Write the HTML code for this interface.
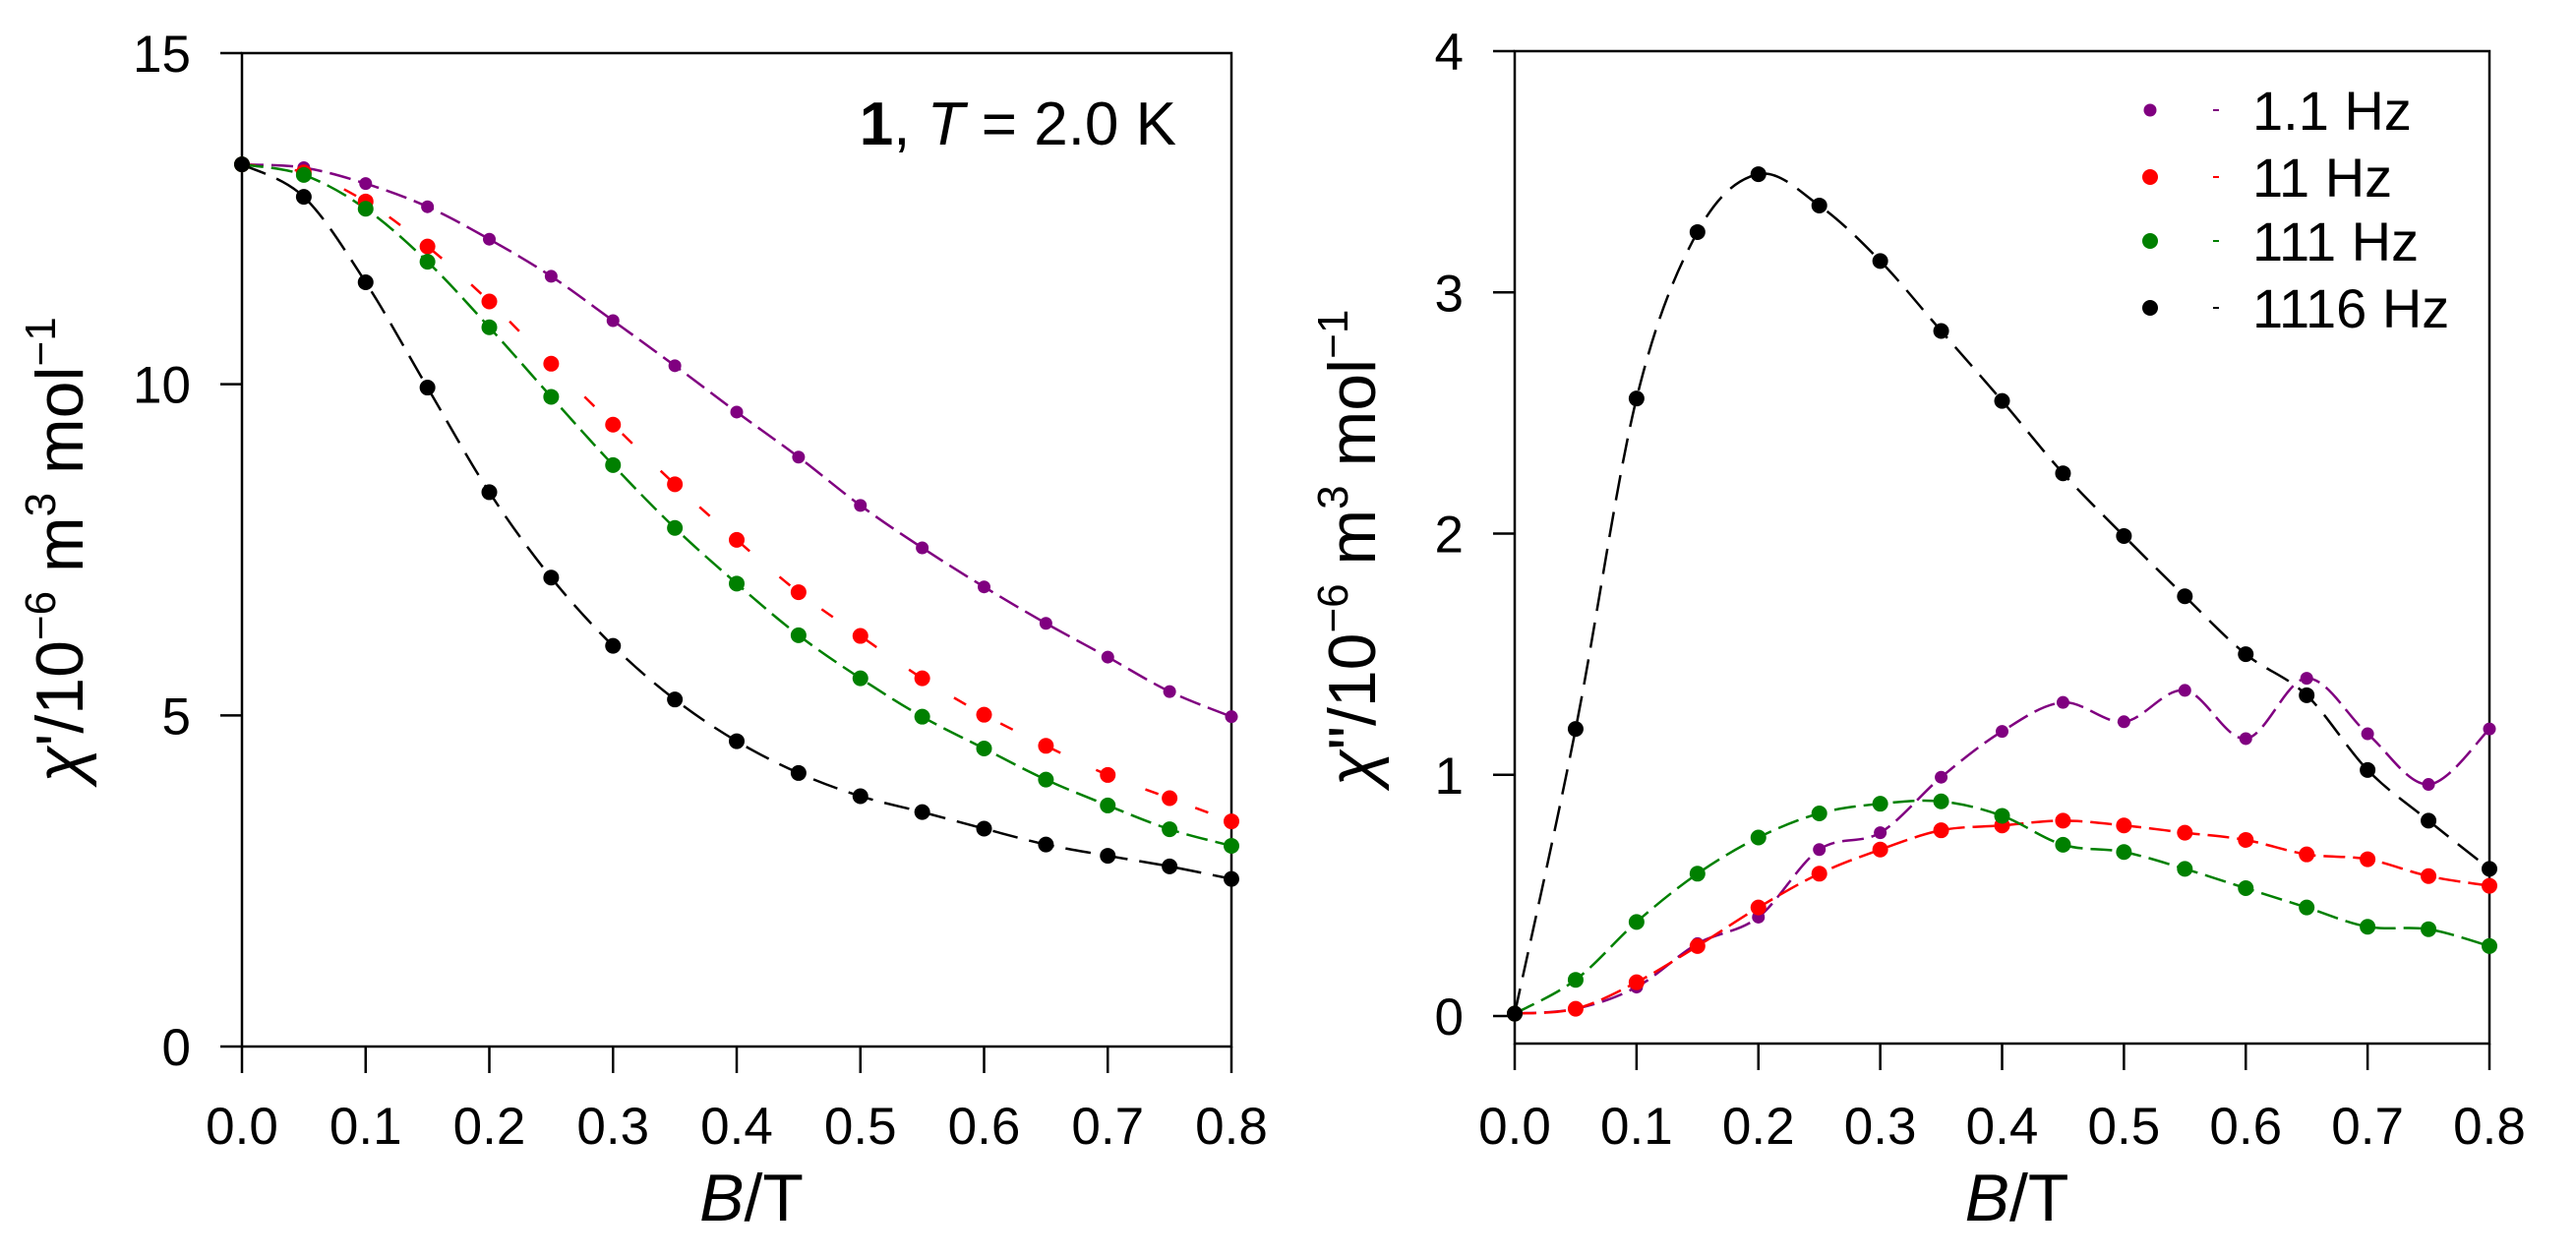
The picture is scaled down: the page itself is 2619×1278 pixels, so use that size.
<!DOCTYPE html>
<html><head><meta charset="utf-8"><style>
html,body{margin:0;padding:0;background:#fff;}
svg{display:block;font-family:"Liberation Sans",Arial,sans-serif;}
</style></head><body>
<svg id="chart" width="2619" height="1278" viewBox="0 0 2619 1278" xmlns="http://www.w3.org/2000/svg"></svg>
<script>
const bValues=[0,0.05,0.1,0.15,0.2,0.25,0.3,0.35,0.4,0.45,0.5,0.55,0.6,0.65,0.7,0.75,0.8];
const seriesNames=["1.1 Hz","11 Hz","111 Hz","1116 Hz"];
const seriesColors=["#800080","#ff0000","#008000","#000000"];
const chiReal1=[13.32,13.27,13.03,12.68,12.19,11.63,10.96,10.28,9.58,8.90,8.17,7.53,6.94,6.39,5.88,5.36,4.98];
const chiReal11=[13.32,13.2,12.76,12.08,11.25,10.31,9.39,8.49,7.65,6.86,6.20,5.56,5.01,4.54,4.10,3.75,3.40];
const chiReal111=[13.32,13.16,12.65,11.85,10.86,9.81,8.78,7.83,6.99,6.21,5.56,4.98,4.50,4.03,3.64,3.28,3.03];
const chiReal1116=[13.32,12.83,11.54,9.95,8.37,7.08,6.05,5.24,4.61,4.13,3.78,3.54,3.29,3.05,2.88,2.72,2.53];
const chiImag1=[0.01,0.03,0.12,0.30,0.41,0.69,0.76,0.99,1.18,1.30,1.22,1.35,1.15,1.40,1.17,0.96,1.19];
const chiImag11=[0.01,0.03,0.14,0.29,0.45,0.59,0.69,0.77,0.79,0.81,0.79,0.76,0.73,0.67,0.65,0.58,0.54];
const chiImag111=[0.01,0.15,0.39,0.59,0.74,0.84,0.88,0.89,0.83,0.71,0.68,0.61,0.53,0.45,0.37,0.36,0.29];
const chiImag1116=[0.01,1.19,2.56,3.25,3.49,3.36,3.13,2.84,2.55,2.25,1.99,1.74,1.50,1.33,1.02,0.81,0.61];
const xTicks=["0.0","0.1","0.2","0.3","0.4","0.5","0.6","0.7","0.8"];
const yTicksLeft=[0,5,10,15];
const yTicksRight=[0,1,2,3,4];

const NS="http://www.w3.org/2000/svg";
const svg=document.getElementById('chart');
function mk(tag,attrs,parent){const e=document.createElementNS(NS,tag);for(const k in attrs)e.setAttribute(k,attrs[k]);(parent||svg).appendChild(e);return e;}
function spline(pts){let d=`M${pts[0][0]},${pts[0][1]}`;for(let i=0;i<pts.length-1;i++){const p0=pts[Math.max(0,i-1)],p1=pts[i],p2=pts[i+1],p3=pts[Math.min(pts.length-1,i+2)];const c1=[p1[0]+(p2[0]-p0[0])/6,p1[1]+(p2[1]-p0[1])/6],c2=[p2[0]-(p3[0]-p1[0])/6,p2[1]-(p3[1]-p1[1])/6];d+=` C${c1[0]},${c1[1]} ${c2[0]},${c2[1]} ${p2[0]},${p2[1]}`;}return d;}

function panel(cfg){
  const g=mk('g',{});
  
  
  const X=v=>cfg.x0+(v-0)/(0.8)*(cfg.x1-cfg.x0);
  const Y=v=>cfg.yZero-(v/cfg.yMax)*(cfg.yZero-cfg.yTop);
  const frame=mk('rect',{x:cfg.x0,y:cfg.yTop,width:cfg.x1-cfg.x0,height:cfg.yBot-cfg.yTop,fill:'none',stroke:'#000','stroke-width':2.5},g);
  
  
  xTicks.forEach(t=>{const x=X(parseFloat(t));
    const l=mk('line',{x1:x,x2:x,y1:cfg.yBot,y2:cfg.yBot+27,stroke:'#000','stroke-width':2.5},g);
    
    
    const tx=mk('text',{x:x,y:1163,'font-size':53,'text-anchor':'middle'},g);tx.textContent=t;
    
    
  });
  cfg.yTicks.forEach(t=>{const y=Y(t);
    const l=mk('line',{x1:cfg.x0-22,x2:cfg.x0,y1:y,y2:y,stroke:'#000','stroke-width':2.5},g);
    
    
    const tx=mk('text',{x:cfg.x0-52,y:y+19,'font-size':53,'text-anchor':'end'},g);tx.textContent=t;
    
    
  });
  const xt=mk('text',{x:(cfg.x0+cfg.x1)/2+15,y:1241,'font-size':68,'text-anchor':'middle'},g);
  xt.innerHTML='<tspan font-style="italic">B</tspan>/T';
  
  
  const yt=mk('text',{x:0,y:0,'font-size':68,'text-anchor':'middle',transform:`translate(${cfg.titleX},${cfg.titleY}) rotate(-90)`},g);
  yt.innerHTML=`<tspan font-style="italic">χ</tspan>${cfg.prime}/10<tspan dy="-28" font-size="44">−6</tspan><tspan dy="28"> m</tspan><tspan dy="-28" font-size="44">3</tspan><tspan dy="28"> mol</tspan><tspan dy="-28" font-size="44">−1</tspan>`;
  
  
  cfg.series.forEach((vals,i)=>{
    const pts=vals.map((v,j)=>[X(bValues[j]),Y(v)]);
    const p=mk('path',{d:spline(pts),fill:'none',stroke:seriesColors[i],'stroke-width':2.5,'stroke-dasharray':cfg.dash[i]},g);
    
    
  });
  cfg.series.forEach((vals,i)=>{
    vals.forEach((v,j)=>{
      const c=mk('circle',{cx:X(bValues[j]),cy:Y(v),r:i===0?6.5:8,fill:seriesColors[i]},g);
      
      
    });
  });
  return g;
}
panel({name:'left-panel',x0:246,x1:1252,yTop:54,yBot:1064,yZero:1064,yMax:15,yTicks:yTicksLeft,titleX:84,titleY:559,prime:"'",
  series:[chiReal1,chiReal11,chiReal111,chiReal1116],dash:["22 8","14 40","22 8","26 12"]});
panel({name:'right-panel',x0:1540,x1:2531,yTop:52,yBot:1061,yZero:1033,yMax:4,yTicks:yTicksRight,titleX:1398,titleY:557,prime:'"',
  series:[chiImag1,chiImag11,chiImag111,chiImag1116],dash:["22 8","22 8","22 8","26 12"]});

const ann=mk('text',{x:1196,y:147,'font-size':62,'text-anchor':'end'});
ann.innerHTML='<tspan font-weight="bold">1</tspan>, <tspan font-style="italic">T</tspan> = 2.0 K';



const legendY=[112,180,245,313];
seriesNames.forEach((n,i)=>{
  const g=mk('g',{});
  
  
  mk('circle',{cx:2186,cy:legendY[i],r:i===0?6.5:8,fill:seriesColors[i]},g);
  mk('line',{x1:2250,x2:2256,y1:legendY[i],y2:legendY[i],stroke:seriesColors[i],'stroke-width':2},g);
  const t=mk('text',{x:2290,y:legendY[i]+20,'font-size':56},g);t.textContent=n;
});
</script>
</body></html>
